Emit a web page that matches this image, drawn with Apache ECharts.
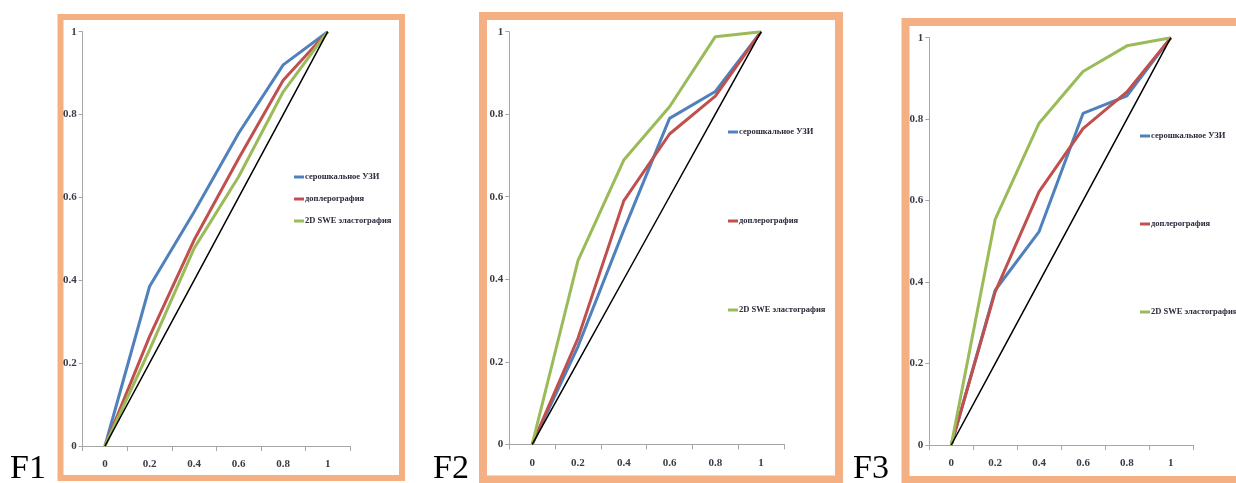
<!DOCTYPE html>
<html><head><meta charset="utf-8">
<script src="https://cdn.jsdelivr.net/npm/echarts@6/dist/echarts.min.js"></script>
<style>html,body{margin:0;padding:0;background:#fff}#c{width:1236px;height:483px}</style>
</head><body><div id="c"></div>
<script>
var categories = ['0','0.2','0.4','0.6','0.8','1'];
var seriesNames = ['серошкальное УЗИ','доплерография','2D SWE эластография'];
var diagonal = [0,0.2,0.4,0.6,0.8,1];
// F1
var f1Gray = [0,0.385,0.565,0.755,0.92,1];
var f1Doppler = [0,0.264,0.497,0.694,0.883,1];
var f1Swe = [0,0.232,0.477,0.65,0.855,1];
// F2
var f2Gray = [0,0.237,0.519,0.79,0.855,1];
var f2Doppler = [0,0.257,0.59,0.752,0.844,1];
var f2Swe = [0,0.445,0.689,0.818,0.988,1];
// F3
var f3Gray = [0,0.38,0.524,0.814,0.857,1];
var f3Doppler = [0,0.376,0.622,0.777,0.867,1];
var f3Swe = [0,0.554,0.79,0.917,0.98,1];
var panelLabels = ['F1','F2','F3'];

var colors = ['#4F81BD','#C0504D','#9BBB59'];
var panels = [
  {data:[f1Gray,f1Doppler,f1Swe], grid:{left:82.7,top:31.7,width:267.3,height:414.3},
   border:{x:60.5,y:17,width:341.5,height:461,lw:6}, legend:{left:294,top:171,gap:10}, fx:10},
  {data:[f2Gray,f2Doppler,f2Swe], grid:{left:509.3,top:31.7,width:274.7,height:412.6},
   border:{x:483,y:16,width:356,height:463.5,lw:8}, legend:{left:728,top:126,gap:77}, fx:433},
  {data:[f3Gray,f3Doppler,f3Swe], grid:{left:929.3,top:37.7,width:263.5,height:407.3},
   border:{x:905.5,y:22,width:345,height:458,lw:8}, legend:{left:1140,top:130,gap:76}, fx:853}
];

var labelFont = {fontFamily:'Liberation Serif', fontWeight:'bold', fontSize:11, color:'#3a3a48'};
var option = {animation:false, grid:[], xAxis:[], yAxis:[], series:[], legend:[], graphic:[]};
panels.forEach(function(p, i){
  option.grid.push(Object.assign({containLabel:false}, p.grid));
  option.xAxis.push({type:'category', gridIndex:i, data:categories, boundaryGap:true,
    axisLine:{lineStyle:{color:'#a6a6a6', width:1}},
    axisTick:{show:true, length:5, lineStyle:{color:'#a6a6a6'}},
    axisLabel:Object.assign({margin:13}, labelFont), splitLine:{show:false}});
  option.yAxis.push({type:'value', gridIndex:i, min:0, max:1, interval:0.2,
    axisLine:{show:true, lineStyle:{color:'#a6a6a6', width:1}},
    axisTick:{show:true, length:4, lineStyle:{color:'#a6a6a6'}},
    axisLabel:Object.assign({margin:6}, labelFont), splitLine:{show:false}});
  p.data.forEach(function(arr, k){
    option.series.push({type:'line', name:seriesNames[k], xAxisIndex:i, yAxisIndex:i, data:arr,
      symbol:'none', color:colors[k], lineStyle:{color:colors[k], width:3}, z:2+k});
  });
  option.series.push({type:'line', name:'diag', xAxisIndex:i, yAxisIndex:i, data:diagonal,
    symbol:'none', color:'#000', lineStyle:{color:'#000', width:1.5}, z:6});
  option.legend.push({orient:'vertical', left:p.legend.left, top:p.legend.top, padding:0,
    itemGap:p.legend.gap, itemWidth:10, itemHeight:3, icon:'rect', selectedMode:false,
    data:seriesNames.slice(),
    textStyle:{fontFamily:'Liberation Serif', fontWeight:'bold', fontSize:8.5, lineHeight:12, color:'#2a2a3a', padding:[0,0,0,-4]}});
  option.graphic.push({type:'rect', z:-1, silent:true,
    shape:{x:p.border.x, y:p.border.y, width:p.border.width, height:p.border.height},
    style:{fill:null, stroke:'#F4AF82', lineWidth:p.border.lw}});
  option.graphic.push({type:'text', left:p.fx, top:452, silent:true,
    style:{text:panelLabels[i], font:'34px "Liberation Serif"', fill:'#000'}});
});
var chart = echarts.init(document.getElementById('c'), null, {renderer:'canvas'});
chart.setOption(option);
</script></body></html>
